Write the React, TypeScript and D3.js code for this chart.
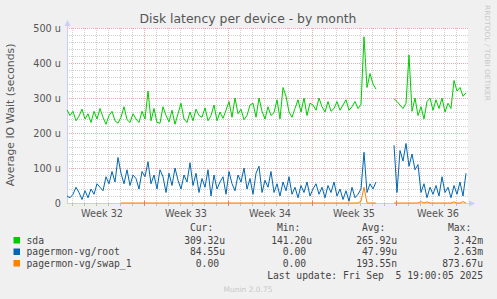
import React from "react";
import * as d3 from "d3";

// one sample every 6 hours, starting at the left edge of the plot (day 0)
const STEP = 0.25;

const sda: (number | null)[] = [
  266, 250, 262, 235, 248, 268, 240, 255, 230, 262, 240, 270, 245, 225, 250, 262,
  235, 228, 245, 275, 238, 230, 255, 240, 230, 262, 240, 320, 235, 270, 230, 228,
  275, 250, 232, 265, 225, 255, 285, 240, 230, 260, 235, 268, 250, 245, 272, 235,
  250, 280, 235, 260, 242, 265, 290, 245, 300, 255, 268, 238, 250, 280, 285, 245,
  300, 262, 240, 275, 250, 258, 295, 240, 330, 305, 260, 245, 270, 295, 260, 300,
  250, 285, 280, 265, 300, 275, 260, 290, 262, 270, 290, 265, 280, 295, 265, 275,
  290, 270, 282, 475, 330, 370, 340, 325, null, null, null, null, null, 298, 290, 280,
  270, 285, 423, 262, 300, 250, 275, 240, 290, 300, 265, 295, 270, 300, 260, 285,
  270, 350, 320, 330, 305, 315,
];

const root: (number | null)[] = [
  20, 15, 25, 45, 30, 10, 35, 15, 40, 25, 55, 45, 35, 75, 55, 90,
  60, 130, 85, 55, 95, 50, 80, 70, 40, 90, 75, 118, 55, 80, 40, 95,
  75, 30, 85, 50, 100, 65, 40, 80, 60, 115, 50, 85, 30, 70, 45, 95,
  20, 80, 40, 60, 75, 25, 90, 55, 35, 80, 60, 100, 40, 70, 25, 85,
  105, 30, 65, 45, 90, 30, 55, 20, 60, 35, 75, 25, 45, 15, 50, 30,
  60, 20, 40, 55, 25, 45, 15, 50, 30, 60, 20, 40, 10, 35, 5, 45,
  15, 25, 40, 145, 30, 55, 40, 60, null, null, null, null, null, 165, 30, 150,
  120, 170, 105, 140, 95, 110, 30, 55, 15, 45, 25, 50, 20, 75, 30, 45,
  15, 50, 25, 60, 20, 85,
];

const swap: (number | null)[] = [
  null, null, null, null, null, null, null, null, null, null, null, null, null, null, null, null,
  null, null, 0, 0, 0, 0, 0, 0, 0, 0, 0, 0, 0, 0, 0, 0,
  0, 0, 0, 0, 0, 0, 0, 0, 0, 0, 0, 0, 0, 0, 0, 0,
  0, 0, 0, 0, 0, 0, 0, 0, 0, 0, 0, 0, 0, 0, 0, 0,
  0, 0, 0, 0, 0, 0, 0, 0, 0, 0, 0, 0, 0, 0, 0, 0,
  0, 0, 0, 0, 0, 0, 0, 0, 0, 0, 0, 0, 0, 0, 0, 0,
  0, 0, 5, 45, 0, 0, 0, 0, null, null, null, null, null, 0, 0, 0,
  0, 0, 0, 0, 0, 0, 4, 0, 3, 0, 0, 0, 0, 0, 0, 0,
  0, 3, 0, 0, 4, 0,
];

const yTicks = [0, 100, 200, 300, 400, 500];
const yTickLabels = ["0", "100 u", "200 u", "300 u", "400 u", "500 u"];
const weekLabels = ["Week 32", "Week 33", "Week 34", "Week 35", "Week 36"];
const weekStarts = [6.42, 13.42, 20.42, 27.42];

const legendNames = ["sda", "pagermon-vg/root", "pagermon-vg/swap_1"];
const legendColors = ["#00cc00", "#0066b3", "#ff8000"];
const curVals = ["309.32u", "84.55u", "0.00"];
const minVals = ["141.20u", "0.00", "0.00"];
const avgVals = ["265.92u", "47.99u", "193.55n"];
const maxVals = ["3.42m", "2.63m", "873.67u"];

const W = 497;
const H = 299;
const left = 67;
const right = 468;
const top = 28;
const bottom = 203;

const x = d3.scaleLinear().domain([0, (right - left) / 12]).range([left, right]);
const y = d3.scaleLinear().domain([0, 500]).range([bottom, top]);

// snap 1px lines onto the pixel grid
const px = (v: number) => Math.round(v) + 0.5;

const line = d3
  .line<number | null>()
  .defined((d) => d !== null)
  .x((_, i) => x(i * STEP))
  .y((d) => y(d as number));

const series = [sda, root, swap];

const sans = "DejaVu Sans, sans-serif";
const mono = "DejaVu Sans Mono, monospace";
const charW = 5.86;

const App = () => {
  const dayLines = d3.range(0.42, 33.4, 1);
  const minorY = d3.range(20, 500, 20).filter((v) => v % 100 !== 0);
  const colRight = [225, 312, 397, 483];
  const cols = [curVals, minVals, avgVals, maxVals];
  const heads = ["Cur:", "Min:", "Avg:", "Max:"];
  const rowY = [243.5, 255, 266.5];

  const valX = (s: string, c: number) =>
    /[0-9]$/.test(s) ? colRight[c] - charW : colRight[c];

  return (
    <svg width={W} height={H} style={{ position: "absolute", left: 0, top: 0 }}>
      <rect width={W} height={H} fill="#f0f0f0" />
      <rect x={left} y={top} width={right - left} height={bottom - top} fill="#ffffff" />

      {/* minor grid */}
      {dayLines.map((d, i) => (
        <line key={"vd" + i} x1={px(x(d))} x2={px(x(d))} y1={top} y2={bottom}
          stroke="#d0d0d0" strokeWidth={1} strokeDasharray="1,1" />
      ))}
      {minorY.map((v) => (
        <line key={"hm" + v} x1={left} x2={right} y1={px(y(v))} y2={px(y(v))}
          stroke="#d0d0d0" strokeWidth={1} strokeDasharray="1,1" />
      ))}
      {/* major grid */}
      {weekStarts.map((d) => (
        <line key={"vw" + d} x1={px(x(d))} x2={px(x(d))} y1={top} y2={bottom}
          stroke="#eaa8a8" strokeWidth={1} strokeDasharray="1,1" />
      ))}
      {yTicks.slice(1).map((v) => (
        <line key={"hM" + v} x1={left} x2={right} y1={px(y(v))} y2={px(y(v))}
          stroke="#eaa8a8" strokeWidth={1} strokeDasharray="1,1" />
      ))}

      {/* axes */}
      <line x1={px(left)} x2={px(left)} y1={bottom} y2={top - 4} stroke="#c8cef4" strokeWidth={1} />
      <path d={`M${left - 2.5},${top - 2} L${left + 0.5},${top - 8} L${left + 3.5},${top - 2} Z`} fill="#c8cef4" />
      <line x1={left} x2={right + 2} y1={px(bottom)} y2={px(bottom)} stroke="#c8cef4" strokeWidth={1} />
      <path d={`M${right + 1},${bottom - 2.5} L${right + 7},${bottom + 0.5} L${right + 1},${bottom + 3.5} Z`} fill="#c8cef4" />
      {dayLines.map((d, i) => (
        <line key={"tk" + i} x1={px(x(d))} x2={px(x(d))} y1={bottom} y2={bottom + 3} stroke="#c0c0c0" />
      ))}
      {weekStarts.map((d) => (
        <line key={"tw" + d} x1={px(x(d))} x2={px(x(d))} y1={bottom - 2} y2={bottom + 3} stroke="#e08080" />
      ))}

      {/* series */}
      {series.map((s, i) => (
        <path key={"s" + i} d={line(s) || ""} fill="none" stroke={legendColors[i]} strokeWidth={1} />
      ))}

      {/* y tick labels */}
      {yTicks.map((v, i) => (
        <text key={"yl" + v} x={61} y={y(v) + 3.5} textAnchor="end" fontFamily={sans}
          fontSize={9.7} fill="#555">
          {yTickLabels[i]}
        </text>
      ))}
      {/* week labels */}
      {weekStarts.concat([34.42]).map((d, i) => (
        <text key={"wl" + i} x={x(d - 3.5)} y={216.5} textAnchor="middle" fontFamily={sans}
          fontSize={9.7} fill="#555">
          {weekLabels[i]}
        </text>
      ))}

      <text x={248} y={23} textAnchor="middle" fontFamily={sans} fontSize={12.4} fill="#555">
        Disk latency per device - by month
      </text>
      <text transform="translate(14,115) rotate(-90)" textAnchor="middle" fontFamily={sans}
        fontSize={10.8} fill="#555">
        Average IO Wait (seconds)
      </text>
      <text transform="translate(485,5) rotate(90)" fontFamily={sans} fontSize={7}
        fill="#c8c8c8" textLength={96} lengthAdjust="spacingAndGlyphs">
        RRDTOOL / TOBI OETIKER
      </text>

      {/* legend */}
      {heads.map((h, c) => (
        <text key={"h" + c} x={colRight[c] - 2 * charW} y={231} textAnchor="end"
          fontFamily={mono} fontSize={9.7} fill="#444">
          {h}
        </text>
      ))}
      {legendNames.map((n, r) => (
        <g key={"lg" + r}>
          <rect x={13.5} y={rowY[r] - 6.5} width={6.5} height={6.5} fill={legendColors[r]} />
          <text x={26.5} y={rowY[r]} fontFamily={mono} fontSize={9.7} fill="#444">
            {n}
          </text>
          {cols.map((col, c) => (
            <text key={"v" + c} x={valX(col[r], c)} y={rowY[r]} textAnchor="end"
              fontFamily={mono} fontSize={9.7} fill="#444">
              {col[r]}
            </text>
          ))}
        </g>
      ))}
      <text x={483} y={278.5} textAnchor="end" fontFamily={mono} fontSize={9.7} fill="#444"
        style={{ whiteSpace: "pre" }}>
        {"Last update: Fri Sep  5 19:00:05 2025"}
      </text>
      <text x={248} y={292} textAnchor="middle" fontFamily={sans} fontSize={7.5} fill="#c8c8c8">
        Munin 2.0.75
      </text>
    </svg>
  );
};

export default App;
